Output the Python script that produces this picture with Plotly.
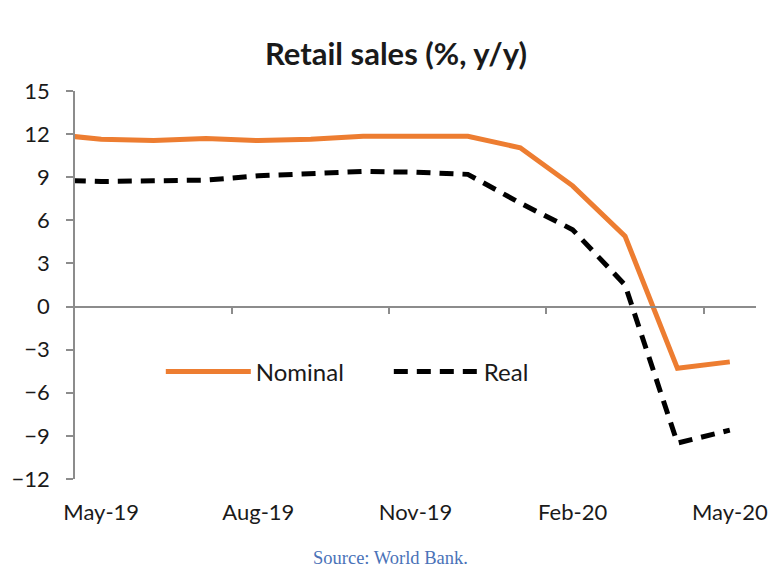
import plotly.graph_objects as go

months = ["Apr-19", "May-19", "Jun-19", "Jul-19", "Aug-19", "Sep-19", "Oct-19",
          "Nov-19", "Dec-19", "Jan-20", "Feb-20", "Mar-20", "Apr-20", "May-20"]
nominal = [12.0, 11.65, 11.55, 11.7, 11.55, 11.65, 11.85, 11.85, 11.85, 11.05, 8.4, 4.9, -4.3, -3.85]
real = [8.8, 8.7, 8.75, 8.8, 9.1, 9.25, 9.4, 9.35, 9.2, 7.2, 5.35, 1.5, -9.5, -8.6]
tick_labels = ["May-19", "Aug-19", "Nov-19", "Feb-20", "May-20"]
y_ticks = list(range(-12, 16, 3))

AX = "#8c8c8c"
TXT = "#1a1a1a"
FONT = "Lato"

fig = go.Figure()
fig.add_trace(go.Scatter(x=months, y=nominal, mode="lines", name="Nominal",
                         line=dict(color="#ED7D31", width=5)))
fig.add_trace(go.Scatter(x=months, y=real, mode="lines", name="Real",
                         line=dict(color="#000000", width=5, dash="14px,9px")))
fig.add_trace(go.Scatter(x=[], y=[], xaxis="x2", showlegend=False, hoverinfo="skip"))

fig.update_layout(
    width=781, height=572,
    margin=dict(l=73, r=25, t=91, b=93),
    paper_bgcolor="white", plot_bgcolor="white",
    title=dict(text="<b>Retail sales (%, y/y)</b>", x=0.507, xanchor="center",
               y=0.906, yanchor="middle",
               font=dict(family=FONT, size=31, color=TXT)),
    xaxis=dict(type="category", range=[0.5, 13.5], tickvals=tick_labels,
               ticktext=tick_labels, ticks="", showline=False, showgrid=False,
               zeroline=False, tickfont=dict(family=FONT, size=22, color=TXT),
               ticklabelstandoff=18),
    xaxis2=dict(overlaying="x", anchor="free", position=12 / 27, range=[0.5, 13.5],
                tickvals=[3.5, 6.5, 9.5, 12.5], showticklabels=False, ticks="outside",
                ticklen=7, tickcolor=AX, tickwidth=1.5, showline=True, linecolor=AX,
                linewidth=1.5, showgrid=False, zeroline=False, side="bottom"),
    yaxis=dict(range=[-12, 15], tickvals=y_ticks, ticks="outside", ticklen=7,
               tickcolor=AX, tickwidth=1.5, showline=True, linecolor=AX, linewidth=1.5,
               showgrid=False, zeroline=False,
               tickfont=dict(family=FONT, size=22, color=TXT), ticklabelstandoff=12),
    legend=dict(orientation="h", x=0.126, y=0.276, xanchor="left", yanchor="middle",
                font=dict(family=FONT, size=24, color=TXT), bgcolor="rgba(0,0,0,0)",
                itemwidth=85, tracegroupgap=0, entrywidth=128,
                entrywidthmode="pixels"),
    annotations=[dict(text="Source: World Bank.", xref="paper", yref="paper",
                      x=0.464, y=-0.204, xanchor="center", yanchor="middle",
                      showarrow=False,
                      font=dict(family="Liberation Serif", size=18.5, color="#4a72b8"))],
)

fig.write_html("out.html", config={"displayModeBar": False},
               post_script="document.body.style.margin='0';")
